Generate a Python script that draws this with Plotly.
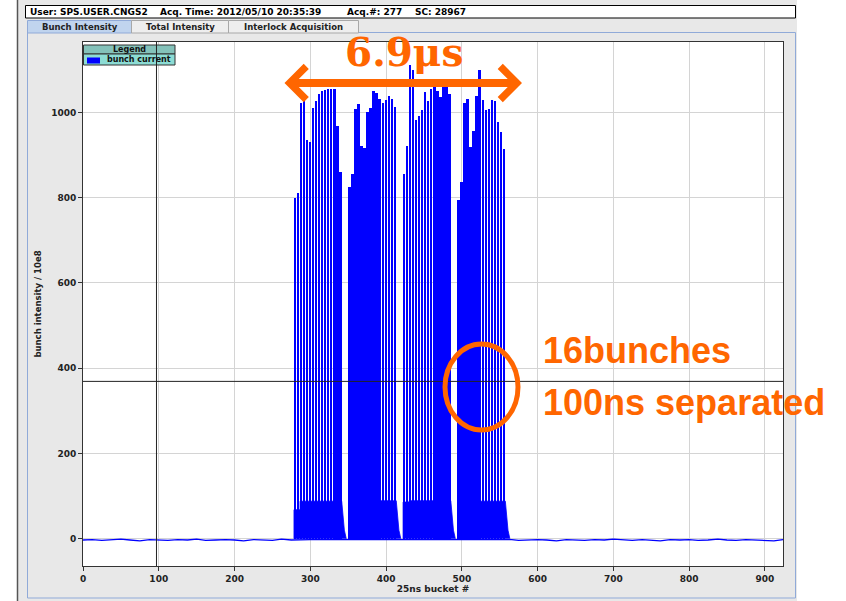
import plotly.graph_objects as go

# ---------------- data ----------------
batch_start = [280, 352, 424, 496]          # bucket of first bunch in each batch
bunch_step = 4                               # 100 ns = 4 x 25 ns buckets
batch1 = [800, 812, 1021, 1037, 934, 930, 1010, 1026, 1044, 1049, 1052, 1055, 1055, 1055, 969, 860]
batch2 = [826, 856, 1007, 1020, 922, 917, 1000, 1010, 1050, 1045, 1031, 1022, 1030, 1039, 1032, 1013]
batch3 = [856, 922, 1110, 1100, 983, 991, 1006, 1047, 1027, 1055, 1061, 1050, 1037, 1060, 1060, 1042]
batch4 = [795, 836, 1022, 1032, 918, 957, 1038, 1099, 1028, 1005, 1007, 1028, 1027, 977, 954, 915]
batches = [batch1, batch2, batch3, batch4]

# low-level intensity under each batch (bucket offset from batch start, intensity)
fill_offset = [-1.5, -1.5, 6.5, 6.5, 61.5, 63.0, 65.0, 67.5]
fill_first_level = [68, 74, 86, 80]
fill_main_level = [88, 89, 89, 88]
fill_tail_level = [55, 20, 0]

# baseline outside the batches
baseline_bucket = [0, 12, 25, 38, 50, 62, 75, 88, 100, 112, 125, 138, 150, 162, 175, 188,
                   200, 212, 225, 238, 250, 262, 275, 300, 348, 420, 492, 566, 575, 588,
                   600, 612, 625, 638, 650, 662, 675, 688, 700, 712, 725, 738, 750, 762,
                   775, 788, 800, 812, 825, 838, 850, 862, 875, 888, 900, 912, 924]
baseline_value = [-3, -2, -4, -3, -1, -3, -5, -2, -3, -4, -2, -3, -1, -4, -3, -2,
                  -3, -5, -2, -3, -4, -1, -3, -2, -2, -2, -2, -2, -4, -3,
                  -2, -3, -5, -2, -3, -4, -2, -3, -1, -3, -4, -2, -3, -5, -2,
                  -3, -2, -4, -3, -1, -3, -4, -2, -3, -4, -5, -2]

cursor_bucket = 97
cursor_level = 369

x_ticks = [0, 100, 200, 300, 400, 500, 600, 700, 800, 900]
y_ticks = [0, 200, 400, 600, 800, 1000]
x_range = [0, 924]
y_range = [-64, 1165]

header_fields = ["User: SPS.USER.CNGS2", "Acq. Time: 2012/05/10 20:35:39",
                 "Acq.#: 277", "SC: 28967"]
tabs = ["Bunch Intensity", "Total Intensity", "Interlock Acquisition"]

# ---------------- build ----------------
BLUE = "#0000ff"
ORANGE = "#ff6600"
L, R, T, B = 83, 783, 42, 566
W, H = R - L, B - T


def px(x):
    return (x - L) / W


def py(y):
    return (B - y) / H


bar_x, bar_y = [], []
for s, vals in zip(batch_start, batches):
    for i, v in enumerate(vals):
        bar_x.append(s + bunch_step * i)
        bar_y.append(v)

fx, fy = [], []
for k, s in enumerate(batch_start):
    levels = [0, fill_first_level[k], fill_first_level[k], fill_main_level[k],
              fill_main_level[k]] + fill_tail_level
    for o, lv in zip(fill_offset, levels):
        fx.append(s + o)
        fy.append(lv)
    fx.append(None)
    fy.append(None)

fig = go.Figure()
fig.add_trace(go.Scatter(x=baseline_bucket, y=baseline_value, mode="lines",
                         line=dict(color=BLUE, width=1.3), hoverinfo="skip",
                         showlegend=False))
fig.add_trace(go.Scatter(x=fx, y=fy, mode="lines", fill="toself", fillcolor=BLUE,
                         line=dict(color=BLUE, width=0.8), showlegend=False,
                         name="bunch current"))
fig.add_trace(go.Bar(x=bar_x, y=bar_y, width=2.6, marker=dict(color=BLUE, line=dict(width=0)),
                     showlegend=False, name="bunch current"))

shapes = []
# window background and chrome
shapes.append(dict(type="rect", xref="paper", yref="paper", x0=px(17), x1=px(797),
                   y0=py(601), y1=py(0), fillcolor="#e8e8e8", line=dict(width=0), layer="below"))
shapes.append(dict(type="line", xref="paper", yref="paper", x0=px(17.5), x1=px(17.5),
                   y0=py(601), y1=py(0), line=dict(color="#555555", width=1.5), layer="below"))
shapes.append(dict(type="rect", xref="paper", yref="paper", x0=px(25.5), x1=px(795.5),
                   y0=py(18), y1=py(5.5), fillcolor="white", line=dict(color="black", width=1),
                   layer="below"))
shapes.append(dict(type="rect", xref="paper", yref="paper", x0=px(27.5), x1=px(795.5),
                   y0=py(598), y1=py(32.5), fillcolor="#e8e8e8",
                   line=dict(color="#90aad8", width=1), layer="below"))
tab_edges = [27.5, 131.5, 228.5, 358.5]
for i in range(3):
    sel = i == 0
    shapes.append(dict(type="rect", xref="paper", yref="paper",
                       x0=px(tab_edges[i]), x1=px(tab_edges[i + 1]),
                       y0=py(33), y1=py(20.5),
                       fillcolor="#c0d4ee" if sel else "#eeeeee",
                       line=dict(color="#90aad8" if sel else "#a8a8a8", width=1), layer="below"))
# plot area
shapes.append(dict(type="rect", xref="paper", yref="paper", x0=0, x1=1, y0=0, y1=1,
                   fillcolor="white", line=dict(width=0), layer="below"))
# legend box
shapes.append(dict(type="rect", xref="paper", yref="paper", x0=px(83.5), x1=px(175),
                   y0=py(54), y1=py(45), fillcolor="#84c2ba", line=dict(color="#333333", width=1)))
shapes.append(dict(type="rect", xref="paper", yref="paper", x0=px(83.5), x1=px(175),
                   y0=py(65), y1=py(54), fillcolor="#8cdcd4", line=dict(color="#333333", width=1)))
shapes.append(dict(type="rect", xref="paper", yref="paper", x0=px(87), x1=px(100),
                   y0=py(63.5), y1=py(57.5), fillcolor=BLUE, line=dict(width=0)))
# cursors
shapes.append(dict(type="line", xref="x", yref="y domain", x0=cursor_bucket, x1=cursor_bucket,
                   y0=0, y1=1, line=dict(color="#222222", width=1)))
shapes.append(dict(type="line", xref="x domain", yref="y", x0=0, x1=1, y0=cursor_level,
                   y1=cursor_level, line=dict(color="#222222", width=1)))
# orange ellipse
shapes.append(dict(type="circle", xref="paper", yref="paper", x0=px(445), x1=px(518),
                   y0=py(430), y1=py(344), line=dict(color=ORANGE, width=5)))

ann = []
header_x = [28, 158, 345, 413]
for hx, t in zip(header_x, header_fields):
    ann.append(dict(xref="paper", yref="paper", x=px(hx), y=py(12), xanchor="left",
                    yanchor="middle", text=t, showarrow=False,
                    font=dict(family="DejaVu Sans", size=9, color="black", weight="bold")))
for i, t in enumerate(tabs):
    ann.append(dict(xref="paper", yref="paper", x=px((tab_edges[i] + tab_edges[i + 1]) / 2),
                    y=py(27), xanchor="center", yanchor="middle", text=t, showarrow=False,
                    font=dict(family="DejaVu Sans", size=8.5, color="#222222", weight="bold")))
ann.append(dict(xref="paper", yref="paper", x=px(129), y=py(49.5), xanchor="center",
                yanchor="middle", text="Legend", showarrow=False,
                font=dict(family="DejaVu Sans", size=8, color="#111111", weight="bold")))
ann.append(dict(xref="paper", yref="paper", x=px(105), y=py(59.5), xanchor="left",
                yanchor="middle", text="bunch current", showarrow=False,
                font=dict(family="DejaVu Sans", size=8, color="#111111", weight="bold")))
# orange annotations
ann.append(dict(xref="paper", yref="paper", x=px(522), y=py(83), ax=-239, ay=0,
                axref="pixel", ayref="pixel", text="", showarrow=True,
                arrowside="end+start", arrowhead=4, startarrowhead=4,
                arrowsize=0.8, startarrowsize=0.8, arrowwidth=8, arrowcolor=ORANGE))
ann.append(dict(xref="paper", yref="paper", x=px(404), y=py(52), xanchor="center",
                yanchor="middle", text="6.9μs", showarrow=False,
                font=dict(family="DejaVu Serif", size=39, color=ORANGE, weight="bold")))
ann.append(dict(xref="paper", yref="paper", x=px(541), y=py(350), xanchor="left",
                yanchor="middle", text="16bunches", showarrow=False,
                font=dict(family="Liberation Sans", size=36, color=ORANGE, weight="bold")))
ann.append(dict(xref="paper", yref="paper", x=px(541), y=py(402), xanchor="left",
                yanchor="middle", text="100ns separated", showarrow=False,
                font=dict(family="Liberation Sans", size=36, color=ORANGE, weight="bold")))

tickfont = dict(family="DejaVu Sans", size=9, color="#222222", weight="bold")
fig.update_layout(
    width=846, height=601,
    margin=dict(l=L, r=846 - R, t=T, b=601 - B, autoexpand=False),
    paper_bgcolor="white", plot_bgcolor="white",
    bargap=0, showlegend=False,
    shapes=shapes, annotations=ann,
    xaxis=dict(range=x_range, tickvals=x_ticks, showgrid=True, gridcolor="#d4d4d4",
               gridwidth=1, zeroline=False, showline=True, linecolor="#333333", mirror=True,
               ticks="outside", ticklen=4, tickcolor="#333333", tickfont=tickfont,
               title=dict(text="25ns bucket #", standoff=2,
                          font=dict(family="DejaVu Sans", size=9, color="#222222", weight="bold"))),
    yaxis=dict(range=y_range, tickvals=y_ticks, showgrid=True, gridcolor="#d4d4d4",
               gridwidth=1, zeroline=False, showline=True, linecolor="#333333", mirror=True,
               ticks="outside", ticklen=4, tickcolor="#333333", tickfont=tickfont,
               title=dict(text="bunch intensity / 10e8", standoff=8,
                          font=dict(family="DejaVu Sans", size=8.5, color="#222222", weight="bold"))),
)

fig.write_html("out.html")
